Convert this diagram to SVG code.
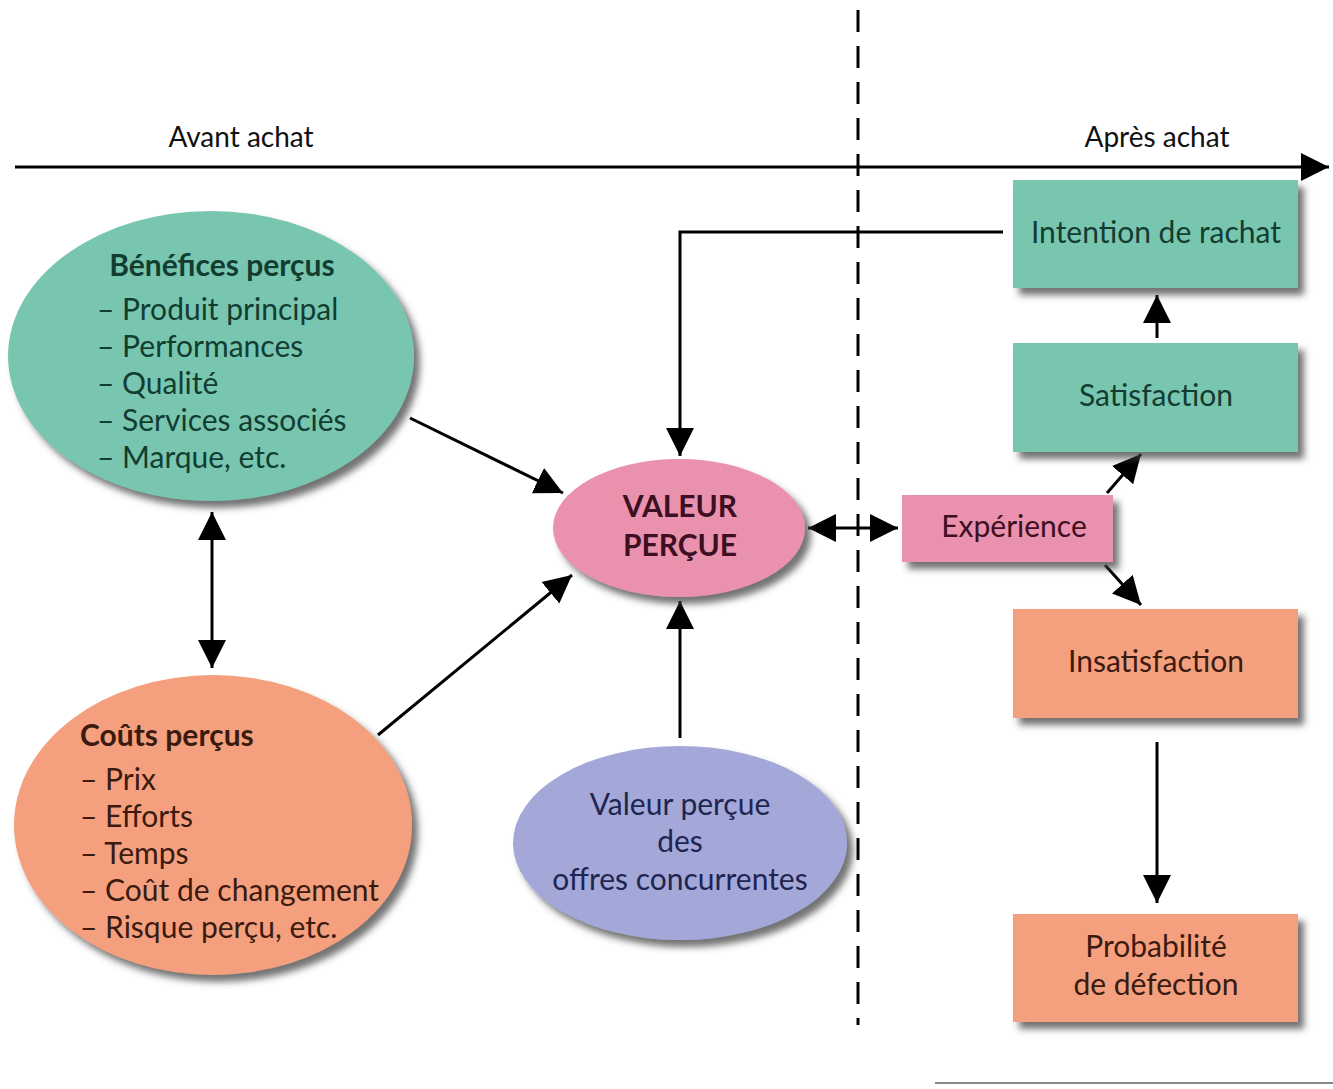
<svg xmlns="http://www.w3.org/2000/svg" width="1333" height="1089" viewBox="0 0 1333 1089">
<style>
text{font-family:Lato,"Open Sans","Liberation Sans",sans-serif;font-size:30px}
.t-teal{fill:#123d31}
.t-sal{fill:#3b1a10}
.t-pink{fill:#3d0f22}
.t-blue{fill:#1e2550}
.b{font-weight:bold}
.line{stroke:#000;stroke-width:3;fill:none}
.teal{fill:#79c6b0}
.sal{fill:#f4a07e}
.pink{fill:#ea92ad}
.blue{fill:#a4a8d8}
</style>
<defs>
<filter id="sh" x="-20%" y="-20%" width="150%" height="150%">
<feDropShadow dx="6" dy="7" stdDeviation="3.5" flood-color="#444" flood-opacity="0.75"/>
</filter>
<marker id="ah" viewBox="0 0 10 10" refX="10" refY="5" markerUnits="userSpaceOnUse" markerWidth="28" markerHeight="29" orient="auto-start-reverse">
<path d="M0,0 L10,5 L0,10 z" fill="#000"/>
</marker>
</defs>
<rect width="1333" height="1089" fill="#fff"/>

<g id="timeline">
<line x1="15" y1="167" x2="1329" y2="167" class="line" marker-end="url(#ah)"/>
<text x="241" y="147" text-anchor="middle" fill="#111" style="font-size:28px">Avant achat</text>
<text x="1157" y="147" text-anchor="middle" fill="#111" style="font-size:28px">Après achat</text>
<line x1="858" y1="10" x2="858" y2="1025" stroke="#000" stroke-width="3" stroke-dasharray="22,14"/>
<line x1="935" y1="1083" x2="1333" y2="1083" stroke="#888" stroke-width="2"/>
</g>

<g id="connectors">
<polyline points="1003,232 680,232 680,456" class="line" marker-end="url(#ah)"/>
<line x1="410" y1="418" x2="563" y2="493" class="line" marker-end="url(#ah)"/>
<line x1="378" y1="735" x2="572" y2="575" class="line" marker-end="url(#ah)"/>
<line x1="212" y1="512" x2="212" y2="668" class="line" marker-start="url(#ah)" marker-end="url(#ah)"/>
<line x1="680" y1="738" x2="680" y2="601" class="line" marker-end="url(#ah)"/>
<line x1="808" y1="528" x2="898" y2="528" class="line" marker-start="url(#ah)" marker-end="url(#ah)"/>
<line x1="1107" y1="493" x2="1141" y2="454" class="line" marker-end="url(#ah)"/>
<line x1="1105" y1="565" x2="1141" y2="605" class="line" marker-end="url(#ah)"/>
<line x1="1157" y1="338" x2="1157" y2="295" class="line" marker-end="url(#ah)"/>
<line x1="1157" y1="742" x2="1157" y2="903" class="line" marker-end="url(#ah)"/>
</g>

<g id="benefices">
<ellipse cx="211" cy="356" rx="203" ry="145" class="teal" filter="url(#sh)"/>
<text x="222" y="276" text-anchor="middle" class="t-teal b">Bénéfices perçus</text>
<text x="97" y="320" class="t-teal">– Produit principal</text>
<text x="97" y="357" class="t-teal">– Performances</text>
<text x="97" y="394" class="t-teal">– Qualité</text>
<text x="97" y="431" class="t-teal">– Services associés</text>
<text x="97" y="468" class="t-teal">– Marque, etc.</text>
</g>

<g id="couts">
<ellipse cx="213" cy="825" rx="199" ry="150" class="sal" filter="url(#sh)"/>
<text x="80" y="746" class="t-sal b">Coûts perçus</text>
<text x="80" y="790" class="t-sal">– Prix</text>
<text x="80" y="827" class="t-sal">– Efforts</text>
<text x="80" y="864" class="t-sal">– Temps</text>
<text x="80" y="901" class="t-sal">– Coût de changement</text>
<text x="80" y="938" class="t-sal">– Risque perçu, etc.</text>
</g>

<g id="valeur">
<ellipse cx="679" cy="528" rx="126" ry="69" class="pink" filter="url(#sh)"/>
<text x="680" y="517" text-anchor="middle" class="t-pink b">VALEUR</text>
<text x="680" y="556" text-anchor="middle" class="t-pink b">PERÇUE</text>
</g>

<g id="concurrentes">
<ellipse cx="680" cy="843" rx="167" ry="97" class="blue" filter="url(#sh)"/>
<text x="680" y="815" text-anchor="middle" class="t-blue">Valeur perçue</text>
<text x="680" y="852" text-anchor="middle" class="t-blue">des</text>
<text x="680" y="890" text-anchor="middle" class="t-blue">offres concurrentes</text>
</g>

<g id="intention">
<rect x="1013" y="180" width="285" height="108" class="teal" filter="url(#sh)"/>
<text x="1156" y="243" text-anchor="middle" class="t-teal">Intention de rachat</text>
</g>

<g id="satisfaction">
<rect x="1013" y="343" width="285" height="109" class="teal" filter="url(#sh)"/>
<text x="1156" y="406" text-anchor="middle" class="t-teal">Satisfaction</text>
</g>

<g id="experience">
<rect x="902" y="495" width="211" height="67" class="pink" filter="url(#sh)"/>
<text x="1014" y="537" text-anchor="middle" class="t-pink">Expérience</text>
</g>

<g id="insatisfaction">
<rect x="1013" y="609" width="285" height="109" class="sal" filter="url(#sh)"/>
<text x="1156" y="672" text-anchor="middle" class="t-sal">Insatisfaction</text>
</g>

<g id="probabilite">
<rect x="1013" y="914" width="285" height="108" class="sal" filter="url(#sh)"/>
<text x="1156" y="957" text-anchor="middle" class="t-sal">Probabilité</text>
<text x="1156" y="995" text-anchor="middle" class="t-sal">de défection</text>
</g>
</svg>
